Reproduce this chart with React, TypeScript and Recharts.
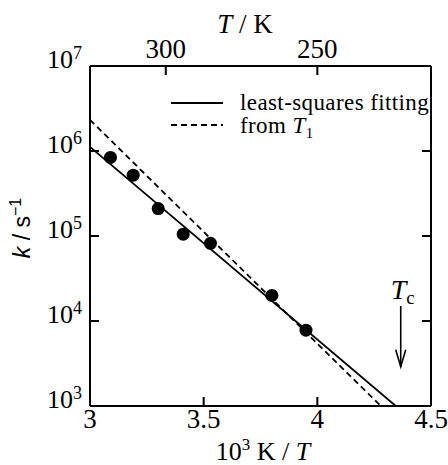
import React from 'react';
import {
  ComposedChart,
  Line,
  Scatter,
  XAxis,
  YAxis,
  ReferenceLine,
} from 'recharts';

// measured rate constants: 10^3 K / T and k (s^-1)
const invTemps = [3.09, 3.19, 3.3, 3.41, 3.53, 3.8, 3.95];
const rates = [8.4e5, 5.2e5, 2.1e5, 1.05e5, 8.2e4, 2.0e4, 7.8e3];

// straight lines on the Arrhenius plot, given by their end points
const fitX = [3, 4.345];
const fitK = [1.12e6, 1e3];
const t1X = [3, 4.279];
const t1K = [2.32e6, 1e3];

const bottomTicks = [3, 3.5, 4, 4.5];
const topTicksK = [300, 250];
const kTicks = [1e3, 1e4, 1e5, 1e6, 1e7];

// transition temperature marker
const TC = 229;
const tcArrowK = [1.5e4, 2.9e3];

const W = 448;
const H = 465;
const SERIF = '"Liberation Serif", "Times New Roman", serif';
const SANS = '"Liberation Sans", Arial, sans-serif';
const TICK = 9;

const points = invTemps.map((x, i) => ({ x, k: rates[i] }));
const fitLine = fitX.map((x, i) => ({ x, k: fitK[i] }));
const t1Line = t1X.map((x, i) => ({ x, k: t1K[i] }));

const series = [
  { name: 'least-squares fitting', data: fitLine, dash: undefined as string | undefined },
  { name: 'from', data: t1Line, dash: '6 4' },
];

const BottomTick = ({ x, y, payload }: any) => {
  const v = payload.value;
  const inner = v > 3 && v < 4.5;
  return (
    <g>
      {inner && <line x1={x} y1={y} x2={x} y2={y - TICK} stroke="#000" strokeWidth={2} />}
      <text x={x} y={y + 22} textAnchor="middle" fontFamily={SERIF} fontSize={27} fill="#000">
        {v}
      </text>
    </g>
  );
};

const TopTick = ({ x, y, payload }: any) => (
  <g>
    <line x1={x} y1={y} x2={x} y2={y + TICK} stroke="#000" strokeWidth={2} />
    <text x={x} y={y - 8} textAnchor="middle" fontFamily={SERIF} fontSize={27} fill="#000">
      {Math.round(1000 / payload.value)}
    </text>
  </g>
);

const LeftTick = ({ x, y, payload }: any) => {
  const v = payload.value;
  const exp = Math.round(Math.log10(v));
  const inner = v > 1e3 && v < 1e7;
  return (
    <g>
      {inner && <line x1={x} y1={y} x2={x + TICK} y2={y} stroke="#000" strokeWidth={2} />}
      <text x={x - 8} y={y + 2} textAnchor="end" fontFamily={SERIF} fontSize={26} fill="#000">
        10
        <tspan fontSize={18} dy={-9}>
          {exp}
        </tspan>
      </text>
    </g>
  );
};

const RightTick = ({ x, y, payload }: any) => {
  const v = payload.value;
  if (v <= 1e3 || v >= 1e7) return <g />;
  return <line x1={x} y1={y} x2={x - TICK} y2={y} stroke="#000" strokeWidth={2} />;
};

const TcArrow = (props: any) => {
  const { x1, y1, x2, y2 } = props;
  return (
    <g>
      <line x1={x1} y1={y1} x2={x2} y2={y2} stroke="#000" strokeWidth={1.6} />
      <polyline
        points={`${x2 - 5},${y2 - 17} ${x2},${y2} ${x2 + 5},${y2 - 17}`}
        fill="none"
        stroke="#000"
        strokeWidth={1.6}
      />
      <text x={x1 - 10} y={y1 - 7} fontFamily={SERIF} fontSize={28} fontStyle="italic" fill="#000">
        T
        <tspan fontStyle="normal" fontSize={19} dy={5}>
          c
        </tspan>
      </text>
    </g>
  );
};

const Dot = (p: any) => <circle cx={p.cx} cy={p.cy} r={6.5} fill="#000" />;

const ChartLegend = () => (
  <svg width={270} height={50} style={{ position: 'absolute', left: 165, top: 88, overflow: 'visible' }}>
    {series.map((s, i) => (
      <g key={s.name}>
        <line
          x1={6}
          x2={58}
          y1={15 + i * 22}
          y2={15 + i * 22}
          stroke="#000"
          strokeWidth={1.8}
          strokeDasharray={s.dash}
        />
        <text
          x={75}
          y={22 + i * 23}
          fontFamily={SERIF}
          fontSize={23}
          letterSpacing={0.4}
          fill="#000"
        >
          {s.name}
          {i === 1 && (
            <>
              {' '}
              <tspan fontStyle="italic">T</tspan>
              <tspan fontSize={15} dy={5}>
                1
              </tspan>
            </>
          )}
        </text>
      </g>
    ))}
  </svg>
);

const Titles = () => (
  <svg width={W} height={H} style={{ position: 'absolute', left: 0, top: 0, pointerEvents: 'none' }}>
    <text x={245} y={33} textAnchor="middle" fontFamily={SERIF} fontSize={27} fill="#000">
      <tspan fontStyle="italic">T</tspan> / K
    </text>
    <text x={263} y={460} textAnchor="middle" fontFamily={SERIF} fontSize={26} fill="#000">
      10
      <tspan fontSize={17} dy={-10}>
        3
      </tspan>
      <tspan dy={10}> K / </tspan>
      <tspan fontStyle="italic">T</tspan>
    </text>
    <text
      x={30}
      y={228}
      textAnchor="middle"
      fontFamily={SANS}
      fontSize={23}
      fill="#000"
      transform="rotate(-90 30 228)"
    >
      <tspan fontStyle="italic">k</tspan> / s
      <tspan fontSize={16} dy={-9}>
        −1
      </tspan>
    </text>
  </svg>
);

export default function App() {
  return (
    <div style={{ position: 'absolute', left: 0, top: 0, width: W, height: H, background: '#fff' }}>
      <ComposedChart width={W} height={H} margin={{ top: 0, right: 0, bottom: 0, left: 0 }}>
        <XAxis
          xAxisId="bottom"
          dataKey="x"
          type="number"
          domain={[3, 4.5]}
          ticks={bottomTicks}
          allowDataOverflow
          orientation="bottom"
          height={59}
          tickSize={0}
          tickMargin={0}
          tick={<BottomTick />}
          axisLine={{ stroke: '#000', strokeWidth: 2 }}
          tickLine={false}
        />
        <XAxis
          xAxisId="top"
          dataKey="x"
          type="number"
          domain={[3, 4.5]}
          ticks={topTicksK.map((t) => 1000 / t)}
          allowDataOverflow
          orientation="top"
          height={66}
          tickSize={0}
          tickMargin={0}
          tick={<TopTick />}
          axisLine={{ stroke: '#000', strokeWidth: 2 }}
          tickLine={false}
        />
        <YAxis
          yAxisId="left"
          dataKey="k"
          type="number"
          scale="log"
          domain={[1e3, 1e7]}
          ticks={kTicks}
          allowDataOverflow
          orientation="left"
          width={90}
          tickSize={0}
          tickMargin={0}
          tick={<LeftTick />}
          axisLine={{ stroke: '#000', strokeWidth: 2 }}
          tickLine={false}
        />
        <YAxis
          yAxisId="right"
          type="number"
          scale="log"
          domain={[1e3, 1e7]}
          ticks={kTicks}
          allowDataOverflow
          orientation="right"
          width={17}
          tickSize={0}
          tickMargin={0}
          tick={<RightTick />}
          axisLine={{ stroke: '#000', strokeWidth: 2 }}
          tickLine={false}
        />
        {series.map((s) => (
          <Line
            key={s.name}
            xAxisId="bottom"
            yAxisId="left"
            data={s.data}
            dataKey="k"
            type="linear"
            stroke="#000"
            strokeWidth={1.8}
            strokeDasharray={s.dash}
            dot={false}
            isAnimationActive={false}
          />
        ))}
        <Scatter
          xAxisId="bottom"
          yAxisId="left"
          data={points}
          dataKey="k"
          shape={<Dot />}
          isAnimationActive={false}
        />
        <ReferenceLine
          xAxisId="bottom"
          yAxisId="left"
          segment={[
            { x: 1000 / TC, y: tcArrowK[0] },
            { x: 1000 / TC, y: tcArrowK[1] },
          ]}
          shape={<TcArrow />}
        />
      </ComposedChart>
      <ChartLegend />
      <Titles />
    </div>
  );
}
